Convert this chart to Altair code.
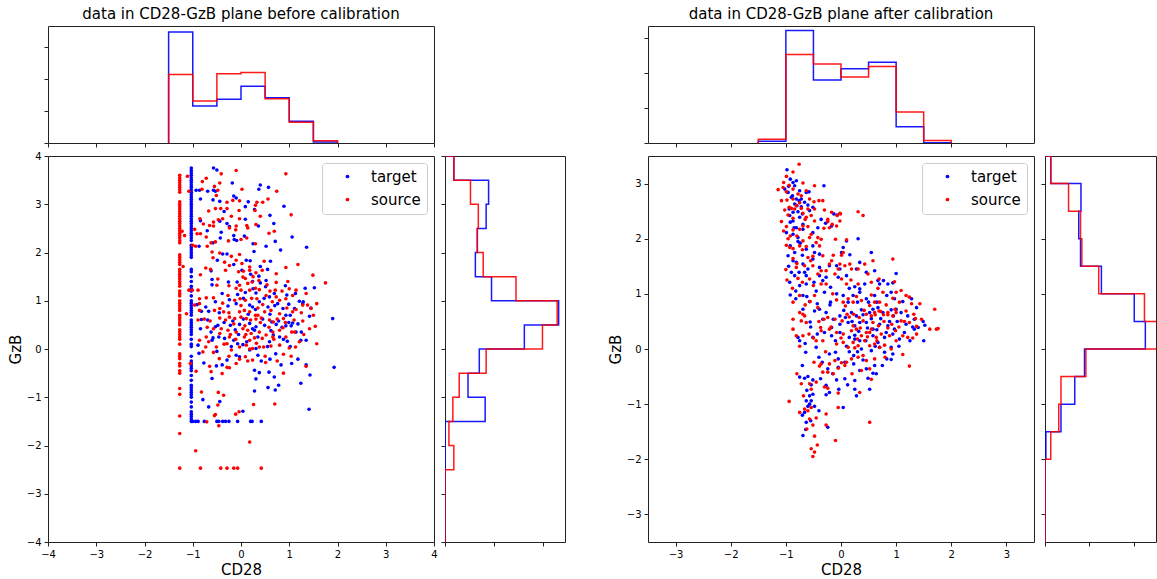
import altair as alt
import pandas as pd

FONT = "DejaVu Sans"
BLUE = "#0000ff"
RED = "#ff0000"
SERIES = ["target", "source"]
TITLE_BEFORE = "data in CD28-GzB plane before calibration"
TITLE_AFTER = "data in CD28-GzB plane after calibration"

# histogram bin edges (shared by all marginal histograms)
BIN_EDGES = [-4.0, -3.5, -3.0, -2.5, -2.0, -1.5, -1.0, -0.5, 0.0, 0.5, 1.0, 1.5, 2.0, 2.5, 3.0, 3.5, 4.0]

# marginal histogram heights, one per bin
before_cd28_target = [0, 0, 0, 0, 0, 3.48, 1.16, 1.37, 1.78, 1.42, 0.68, 0.03, 0, 0, 0, 0]
before_cd28_source = [0, 0, 0, 0, 0, 2.15, 1.32, 2.17, 2.21, 1.39, 0.65, 0.07, 0, 0, 0, 0]
before_gzb_target = [0, 0, 0, 0, 0, 0.82, 0.47, 0.70, 1.62, 2.32, 0.95, 0.62, 0.66, 0.84, 0.89, 0.18]
before_gzb_source = [0, 0, 0, 0.18, 0.08, 0.16, 0.29, 0.84, 1.99, 2.29, 1.45, 0.78, 0.66, 0.68, 0.52, 0.18]
after_cd28_target = [0, 0, 0, 0, 0, 0.05, 3.20, 1.79, 2.11, 2.30, 0.46, 0.01, 0, 0, 0, 0]
after_cd28_source = [0, 0, 0, 0, 0, 0.11, 2.52, 2.25, 1.88, 2.18, 0.88, 0.07, 0, 0, 0, 0]
after_gzb_target = [0, 0, 0, 0, 0.02, 0.36, 0.67, 0.89, 2.26, 2.01, 1.27, 0.80, 0.76, 0.81, 0.13, 0]
after_gzb_source = [0, 0, 0, 0, 0.13, 0.31, 0.36, 0.92, 2.65, 2.24, 1.21, 0.83, 0.80, 0.53, 0.13, 0]

# ---- scatter points, before calibration ----
before_target_col_x = -1.03
before_target_col_y = [3.75, 3.7, 3.65, 3.6, 3.55, 3.5, 3.45, 3.4, 3.35, 3.3, 3.25, 3.2, 3.15, 3.1, 3.05, 3.0,
                       2.95, 2.9, 2.85, 2.8, 2.75, 2.7, 2.65, 2.6, 2.55, 2.5, 2.45, 2.4, 2.35, 2.3, 2.25, 2.15,
                       2.1, 2.05, 2.0, 1.95, 1.9, 1.65, 1.6, 1.5, 1.4, 1.3, 1.25, 1.2, 1.1, 1.0, 0.95, 0.9, 0.85,
                       0.8, 0.75, 0.7, 0.6, 0.55, 0.5, 0.45, 0.4, 0.35, 0.3, 0.2, 0.1, 0.05, -0.15, -0.25, -0.3,
                       -0.35, -0.4, -0.45, -0.55, -0.65, -0.75, -0.8, -0.85, -0.9, -0.95, -1.0, -1.1, -1.2,
                       -1.3, -1.35, -1.4, -1.45]
before_target_row_y = -1.5
before_target_row_x = [-1.03, -1.0, -0.94, -0.89, -0.76, -0.5, -0.46, -0.38, -0.32, -0.25, -0.07, 0.2, 0.23, 0.42]
before_target_cloud = [
    (-0.57, 3.75), (-0.50, 3.71), (-0.93, 3.29), (-0.86, 3.29), (-0.69, 3.27), (-0.57, 3.29), (-0.53, 3.27),
    (-0.18, 3.44), (0.40, 3.40), (0.37, 3.31), (0.57, 3.35), (-0.84, 3.11), (-0.58, 3.09), (-0.44, 3.06),
    (-0.15, 3.17), (-0.10, 3.13), (0.09, 2.95), (0.28, 2.89), (0.89, 2.96), (0.60, 2.77), (-0.84, 2.66),
    (-0.44, 2.65), (-0.29, 2.60), (-0.24, 2.54), (0.09, 2.69), (0.36, 2.55), (-0.41, 2.42), (-0.15, 2.35),
    (0.07, 2.34), (-0.14, 2.27), (-0.43, 2.30), (1.06, 2.32), (-0.09, 2.25), (0.71, 2.23), (0.25, 2.18),
    (0.52, 2.13), (1.36, 2.11), (-0.87, 2.13), (-0.58, 2.20), (-0.38, 1.97), (-0.29, 1.97), (0.27, 2.02),
    (-0.49, 1.84), (0.11, 1.84), (0.19, 1.83), (0.61, 1.82), (0.40, 1.71), (0.02, 1.63), (0.37, 1.51),
    (-0.26, 1.39), (-0.60, 1.44), (-0.08, 1.39), (0.24, 1.40), (0.40, 1.37), (0.52, 1.42), (0.92, 1.31),
    (1.33, 1.26), (1.52, 1.27), (-0.60, 1.33), (-0.39, 1.15), (-0.24, 1.02), (-0.07, 1.13), (0.09, 1.17),
    (0.31, 1.16), (0.51, 1.29), (0.59, 1.08), (0.69, 1.15), (1.13, 1.15), (1.21, 0.99), (1.29, 0.98),
    (-0.91, 0.92), (-0.82, 0.78), (-0.73, 0.87), (-0.67, 0.78), (-0.53, 0.98), (-0.27, 0.89), (-0.10, 0.94),
    (0.18, 0.91), (0.24, 0.87), (0.38, 0.98), (0.56, 0.87), (0.76, 0.94), (0.87, 0.84), (0.99, 0.93),
    (1.11, 0.84), (1.28, 0.94), (1.42, 0.68), (0.93, 0.70), (1.90, 0.63), (-0.82, 0.61), (-0.69, 0.60),
    (-0.53, 0.46), (-0.48, 0.49), (-0.22, 0.49), (-0.17, 0.58), (-0.03, 0.51), (0.18, 0.53), (0.24, 0.42),
    (0.28, 0.39), (0.31, 0.46), (0.49, 0.49), (0.64, 0.56), (0.73, 0.51), (0.93, 0.48), (0.99, 0.55),
    (1.04, 0.48), (1.07, 0.54), (1.14, 0.35), (-0.84, 0.42), (-0.58, 0.23), (-0.46, 0.25), (-0.34, 0.22),
    (-0.15, 0.18), (-0.07, 0.11), (0.04, 0.09), (0.31, 0.01), (0.59, 0.15), (0.67, 0.29), (0.80, 0.25),
    (0.96, 0.16), (1.24, 0.18), (1.35, 0.18), (-0.89, 0.08), (-0.60, 0.18), (-0.87, -0.09), (-0.77, -0.29),
    (-0.51, -0.35), (-0.39, -0.33), (-0.29, -0.23), (-0.10, -0.13), (-0.03, -0.16), (0.18, -0.02),
    (0.35, -0.13), (0.60, -0.21), (0.83, -0.33), (1.05, -0.30), (1.18, -0.21), (1.35, -0.33), (1.93, -0.38),
    (0.28, -0.44), (0.38, -0.49), (0.58, -0.48), (0.69, -0.58), (0.78, -0.75), (0.56, -0.80), (0.71, -0.85),
    (-0.60, -0.61), (0.31, -0.62), (1.43, -0.54), (1.24, -0.71), (0.28, -0.87), (-0.79, -1.05),
    (-0.67, -1.20), (-0.44, -1.09), (0.04, -1.29), (1.41, -1.25),
    (0.45, 0.62), (0.62, 0.38), (0.78, 0.58), (0.15, 0.72), (-0.05, 0.30), (0.35, 0.25), (0.55, 0.05),
    (0.85, 0.45), (1.02, 0.70), (1.18, 0.52), (0.05, 1.05), (0.25, 1.25), (-0.35, 0.55), (-0.45, 0.75),
    (-0.62, 0.35), (0.70, 0.90), (0.48, 1.05), (0.95, 1.12), (1.25, 0.35), (1.45, 0.85), (0.12, 0.15),
    (-0.20, 0.05), (0.42, -0.25), (0.72, -0.10), (-0.50, -0.05), (0.20, 1.55), (-0.15, 1.75), (0.55, 1.65),
    (0.82, 2.05), (-0.35, 2.85), (-0.70, 2.45), (0.15, 3.05), (0.68, 2.60), (-0.62, 1.62), (1.02, 0.05),
    (0.30, 0.82), (0.60, 0.72), (0.88, 0.20), (-0.12, 0.40), (0.05, 0.62),
]
before_source_col_x = -1.27
before_source_col_y = [3.6, 3.55, 3.5, 3.45, 3.4, 3.35, 3.3, 3.25, 3.05, 3.0, 2.95, 2.9, 2.85, 2.8, 2.75, 2.7,
                       2.65, 2.6, 2.55, 2.5, 2.45, 2.4, 2.35, 2.3, 2.25, 2.2, 1.95, 1.9, 1.85, 1.8, 1.75, 1.65,
                       1.6, 1.55, 1.5, 1.45, 1.4, 1.35, 1.3, 1.2, 1.15, 1.1, 1.0, 0.95, 0.9, 0.85, 0.8, 0.7,
                       0.65, 0.6, 0.55, 0.5, 0.4, 0.35, 0.3, 0.25, 0.2, 0.1, -0.1, -0.15, -0.2, -0.3, -0.35,
                       -0.45, -0.5, -0.82, -0.94, -1.39, -1.75, -2.47]
before_source_row_y = -2.47
before_source_row_x = [-0.84, -0.42, -0.29, -0.15, -0.07, 0.42]
before_source_cloud = [
    (-1.11, 3.58), (-0.10, 3.70), (-0.41, 3.63), (0.93, 3.63), (-0.72, 3.54), (-0.80, 3.47), (-0.44, 3.44),
    (-0.55, 3.37), (-0.48, 3.29), (-0.81, 3.31), (-1.08, 3.27), (0.02, 3.31), (0.74, 3.27), (-0.51, 3.18),
    (-0.29, 3.04), (-0.17, 3.08), (-0.03, 3.07), (0.45, 3.04), (0.56, 3.11), (0.33, 3.04), (-0.42, 2.91),
    (-0.29, 2.91), (-0.04, 2.87), (0.30, 2.98), (-0.67, 2.86), (-0.53, 2.91), (1.04, 2.78), (0.29, 2.87),
    (-0.03, 2.70), (-0.47, 2.68), (-0.38, 2.70), (-0.57, 2.63), (-0.65, 2.56), (-0.78, 2.59), (-0.57, 2.55),
    (-0.24, 2.51), (-0.10, 2.55), (0.12, 2.56), (0.31, 2.58), (-0.11, 2.47), (0.14, 2.51), (0.69, 2.44),
    (-0.96, 2.48), (-0.91, 2.39), (-0.84, 2.39), (-1.17, 2.35), (-1.22, 2.44), (-0.72, 2.32), (-0.26, 2.24),
    (0.00, 2.27), (-0.53, 2.22), (0.30, 2.18), (-0.62, 2.20), (-1.00, 2.15), (-0.94, 2.13), (-0.70, 2.13),
    (-0.60, 2.01), (-0.44, 1.99), (-0.03, 1.96), (-0.20, 1.92), (-0.58, 1.89), (-0.34, 1.80), (-0.10, 1.84),
    (0.02, 1.77), (0.18, 1.70), (-0.24, 1.73), (-0.73, 1.68), (-0.63, 1.65), (-1.20, 1.71), (-0.32, 1.63),
    (0.05, 1.61), (0.18, 1.63), (0.31, 1.58), (0.44, 1.63), (-0.84, 1.54), (0.73, 1.56), (0.93, 1.69),
    (1.18, 1.75), (0.04, 1.49), (0.09, 1.46), (-0.03, 1.32), (0.14, 1.36), (0.23, 1.39), (0.37, 1.42),
    (0.54, 1.33), (0.73, 1.38), (0.97, 1.40), (1.49, 1.53), (1.75, 1.37), (-0.50, 1.32), (-0.25, 1.31),
    (-0.10, 1.26), (0.00, 1.22), (0.18, 1.22), (0.30, 1.26), (0.38, 1.23), (0.60, 1.20), (0.71, 1.22),
    (1.00, 1.25), (1.14, 1.22), (1.35, 1.15), (-1.08, 1.22), (-1.01, 1.22), (-0.89, 1.22), (-0.27, 1.11),
    (-0.13, 1.01), (-0.02, 1.04), (0.09, 1.01), (0.33, 1.04), (0.52, 1.11), (0.73, 1.08), (0.80, 1.01),
    (0.93, 1.04), (1.07, 1.11), (-0.86, 1.04), (-0.72, 1.06), (-0.57, 1.06), (-0.86, 0.94), (1.28, 0.91),
    (1.38, 0.91), (1.57, 0.94), (-0.96, 0.91), (-0.86, 0.80), (-0.44, 0.84), (-0.36, 0.77), (-0.25, 0.75),
    (-0.03, 0.77), (0.07, 0.80), (0.18, 0.77), (0.30, 0.70), (0.35, 0.85), (0.49, 0.77), (0.62, 0.80),
    (0.80, 0.73), (1.07, 0.77), (1.14, 0.82), (1.45, 0.84), (-1.13, 0.73), (-0.89, 0.60), (-0.76, 0.62),
    (-0.64, 0.58), (-0.44, 0.64), (-0.32, 0.60), (-0.24, 0.66), (-0.13, 0.63), (0.00, 0.66), (0.11, 0.63),
    (0.31, 0.62), (0.42, 0.64), (0.59, 0.60), (0.67, 0.56), (0.88, 0.63), (1.28, 0.58), (-0.57, 0.42),
    (-0.41, 0.42), (-0.27, 0.39), (-0.10, 0.35), (0.04, 0.42), (0.14, 0.39), (0.21, 0.32), (0.38, 0.35),
    (0.52, 0.29), (0.66, 0.35), (0.80, 0.39), (0.87, 0.44), (1.11, 0.35), (1.42, 0.42), (1.54, 0.47),
    (-0.44, 0.32), (-0.24, 0.25), (-0.11, 0.20), (0.07, 0.25), (0.18, 0.18), (0.28, 0.23), (0.44, 0.22),
    (0.66, 0.25), (0.93, 0.25), (1.21, 0.15), (-0.72, 0.25), (-0.86, 0.18), (-0.67, 0.15), (-0.51, 0.04),
    (-0.29, 0.11), (-0.20, -0.02), (-0.03, 0.04), (0.11, 0.08), (0.24, 0.01), (0.38, 0.04), (0.47, 0.04),
    (0.62, 0.06), (0.80, 0.08), (1.00, 0.02), (1.13, 0.04), (1.57, 0.11), (-0.73, 0.04), (-0.79, -0.06),
    (-0.57, -0.07), (-0.25, -0.15), (-0.03, -0.21), (0.09, -0.16), (0.24, -0.23), (0.51, -0.28),
    (0.88, -0.11), (1.04, -0.15), (1.35, -0.36), (-0.65, -0.36), (-0.62, -0.47), (-0.29, -0.38),
    (-0.24, -0.39), (-0.10, -0.30), (0.14, -0.25), (0.88, -0.50), (-0.39, -0.51), (-0.82, -0.89),
    (-0.93, -0.46), (-0.47, -0.90), (-0.36, -0.96), (-0.48, -1.16), (-0.53, -1.36), (-0.55, -1.38),
    (-0.11, -1.35), (-0.04, -1.30), (0.26, -1.15), (0.70, -1.14), (-0.71, -1.51), (-0.46, -1.59),
    (0.18, -1.93), (-0.94, -2.11), (-1.05, -0.30),
    (0.40, 0.55), (0.58, 0.45), (0.75, 0.62), (0.20, 0.60), (-0.15, 0.52), (0.10, 0.30), (0.32, 0.12),
    (0.92, 0.55), (1.10, 0.60), (1.25, 0.75), (0.00, 0.90), (0.22, 1.05), (-0.38, 0.95), (-0.55, 0.80),
    (-0.70, 0.45), (0.65, 0.98), (0.45, 0.92), (0.85, 1.20), (1.30, 0.30), (1.50, 0.70), (0.18, 0.00),
    (-0.35, 0.10), (0.50, -0.15), (0.75, -0.25), (-0.45, -0.20), (0.25, 1.50), (-0.05, 1.60), (0.48, 1.82),
    (0.12, 2.30), (-0.20, 2.75), (-0.85, 2.70), (0.40, 2.75), (0.58, 2.40), (-0.48, 1.45), (1.05, 0.35),
    (0.35, 0.70), (0.68, 0.20), (0.95, 0.85), (-0.22, 0.30), (0.08, 0.48),
]

# ---- scatter points, after calibration ----
after_target_pts = [
    (-0.98, 3.25), (-0.92, 3.08), (-0.81, 3.05), (-0.87, 3.02), (-0.84, 2.96), (-1.02, 2.90), (-0.96, 2.84),
    (-0.75, 2.87), (-0.63, 2.84), (-0.58, 2.85), (-0.31, 2.96), (-0.90, 2.75), (-0.81, 2.72), (-0.76, 2.69),
    (-0.72, 2.72), (-0.66, 2.66), (-0.60, 2.61), (-0.84, 2.63), (-0.94, 2.54), (-0.87, 2.48), (-0.78, 2.49),
    (-0.72, 2.58), (-0.57, 2.51), (-0.51, 2.57), (-0.93, 2.42), (-0.87, 2.32), (-0.92, 2.30), (-0.75, 2.39),
    (-0.69, 2.26), (-0.36, 2.35), (-0.13, 2.45), (-0.07, 2.43), (-0.81, 2.20), (-0.69, 2.17), (-0.51, 2.11),
    (-0.42, 2.20), (-0.28, 2.28), (-0.17, 2.23), (-0.99, 2.11), (-0.87, 2.08), (-0.78, 2.02), (0.31, 2.00),
    (0.10, 1.96), (0.04, 1.84), (-0.74, 1.92), (-0.51, 1.87), (-0.48, 1.75), (-0.39, 1.72), (-0.63, 1.81),
    (-0.92, 1.87), (-0.84, 1.75), (0.16, 1.71), (0.01, 1.75), (-0.96, 1.69), (-0.87, 1.60), (-0.81, 1.57),
    (-0.69, 1.54), (-0.51, 1.63), (-0.39, 1.48), (-0.21, 1.51), (-0.08, 1.51), (0.34, 1.57), (0.55, 1.75),
    (0.61, 1.42), (0.46, 1.39), (0.28, 1.45), (0.10, 1.33), (-0.02, 1.45), (-0.90, 1.39), (-0.84, 1.33),
    (-0.76, 1.39), (-0.66, 1.39), (-0.63, 1.33), (-0.39, 1.33), (-0.27, 1.30), (-0.93, 1.21), (-0.75, 1.15),
    (-0.63, 1.18), (-0.49, 1.21), (-0.33, 1.24), (-0.19, 1.12), (-0.05, 1.30), (0.25, 1.13), (0.34, 1.09),
    (0.43, 1.18), (0.67, 1.24), (0.70, 1.18), (0.85, 1.18), (1.00, 1.37), (0.94, 1.20), (0.77, 1.24),
    (-0.92, 0.98), (-0.82, 0.91), (-0.69, 0.97), (-0.57, 0.86), (-0.43, 0.82), (-0.30, 1.03), (-0.19, 0.85),
    (-0.08, 1.00), (0.04, 0.97), (0.13, 0.85), (0.22, 0.97), (0.34, 1.03), (0.46, 0.91), (0.61, 0.97),
    (0.65, 0.85), (0.83, 0.97), (0.91, 1.03), (0.97, 0.91), (1.12, 0.86), (1.28, 0.91), (1.37, 0.75),
    (-0.69, 0.72), (-0.48, 0.69), (-0.39, 0.72), (-0.27, 0.66), (-0.14, 0.54), (-0.02, 0.60), (0.08, 0.57),
    (0.19, 0.66), (0.28, 0.60), (0.37, 0.71), (0.52, 0.66), (0.58, 0.72), (0.67, 0.75), (0.76, 0.66),
    (0.91, 0.71), (1.00, 0.72), (1.09, 0.66), (1.21, 0.60), (1.33, 0.54), (1.49, 0.50), (1.52, 0.43),
    (-0.56, 0.49), (-0.33, 0.54), (-0.17, 0.39), (-0.02, 0.45), (0.13, 0.48), (0.25, 0.42), (0.34, 0.48),
    (0.46, 0.48), (0.58, 0.36), (0.70, 0.45), (0.85, 0.42), (0.97, 0.36), (1.18, 0.45), (1.33, 0.36),
    (1.40, 0.39), (-0.78, 0.21), (-0.75, 0.15), (-0.51, 0.21), (-0.43, 0.27), (-0.17, 0.24), (-0.02, 0.30),
    (0.15, 0.21), (0.25, 0.18), (0.34, 0.15), (0.58, 0.24), (0.67, 0.12), (0.79, 0.21), (0.94, 0.27),
    (1.06, 0.18), (1.50, 0.15), (-0.64, -0.06), (-0.45, 0.03), (-0.21, -0.09), (-0.10, -0.06), (-0.05, -0.18),
    (0.15, -0.05), (0.23, -0.12), (0.37, 0.00), (0.55, -0.03), (0.70, 0.03), (0.79, -0.06), (0.83, -0.18),
    (0.91, -0.19), (0.94, -0.09), (0.91, 0.03), (-0.34, -0.24), (-0.24, -0.36), (-0.05, -0.33), (0.07, -0.24),
    (0.23, -0.27), (0.34, -0.39), (0.46, -0.36), (0.61, -0.30), (0.58, -0.44), (-0.75, -0.51), (-0.66, -0.53),
    (-0.60, -0.50), (-0.51, -0.56), (-0.37, -0.54), (-0.27, -0.66), (-0.08, -0.56), (0.07, -0.54),
    (0.25, -0.57), (0.49, -0.53), (0.64, -0.45), (-0.54, -0.65), (-0.51, -0.82), (-0.57, -0.85),
    (-0.27, -0.83), (-0.21, -0.79), (-0.04, -0.73), (0.25, -0.73), (0.28, -0.85), (0.52, -0.73),
    (-0.63, -0.94), (-0.54, -0.94), (-0.57, -1.00), (-0.60, -1.04), (-0.48, -1.04), (-0.66, -1.15),
    (-0.40, -1.12), (0.04, -1.06), (-0.63, -1.33), (-0.64, -1.46), (-0.24, -1.42), (-0.69, -1.57),
    (-0.95, 2.95), (-0.88, 2.78), (-0.80, 2.60), (-0.70, 2.45), (-0.85, 2.20), (-0.78, 1.95), (-0.70, 1.70),
    (-0.60, 1.45), (-0.95, 1.50), (-0.82, 1.05), (-0.62, 0.95), (-0.45, 1.05), (-0.20, 0.80), (0.05, 0.70),
    (0.20, 0.50), (0.32, 0.32), (0.45, 0.15), (0.55, 0.55), (0.65, 0.35), (0.72, 0.55), (0.82, 0.30),
    (0.88, 0.50), (1.02, 0.50), (1.15, 0.30), (1.25, 0.15), (0.40, 0.62), (0.30, 0.85), (0.15, 1.10),
    (0.50, 0.85), (0.62, 0.05), (0.30, -0.05), (0.10, 0.05), (-0.10, 0.15), (-0.30, 0.30), (-0.55, 0.40),
    (-0.65, 0.10), (-0.40, -0.15), (-0.15, -0.45), (0.12, -0.65), (0.40, -0.20), (-0.70, -0.30),
    (-0.62, -0.75), (-0.70, -1.20), (-0.55, -1.30), (0.75, -0.30), (1.05, 0.05), (1.30, 0.40), (0.95, 0.60),
    (0.25, 0.25), (0.48, 0.38),
]
after_source_pts = [
    (-0.76, 3.35), (-0.87, 3.21), (-0.99, 3.13), (-1.04, 3.02), (-0.94, 2.97), (-0.87, 2.90), (-1.14, 2.89),
    (-1.05, 2.93), (-0.99, 2.85), (-0.69, 3.01), (-0.48, 2.96), (-0.63, 2.87), (-0.78, 2.81), (-0.72, 2.78),
    (-1.08, 2.69), (-0.87, 2.72), (-0.81, 2.60), (-0.57, 2.72), (-0.49, 2.67), (-0.40, 2.69), (-0.33, 2.69),
    (-1.02, 2.52), (-0.94, 2.57), (-0.84, 2.54), (-0.72, 2.55), (-0.60, 2.54), (-0.69, 2.46), (-0.48, 2.54),
    (-0.30, 2.52), (-0.17, 2.48), (-0.02, 2.46), (-0.07, 2.42), (-0.01, 2.45), (0.31, 2.49), (0.40, 2.42),
    (-0.96, 2.43), (-0.87, 2.37), (-0.63, 2.39), (-0.54, 2.42), (-0.48, 2.32), (-0.24, 2.35), (-0.24, 2.31),
    (-0.16, 2.26), (-0.02, 2.32), (-1.08, 2.31), (-0.99, 2.22), (-0.69, 2.23), (-0.75, 2.17), (-0.60, 2.22),
    (-0.31, 2.19), (-0.21, 2.20), (-0.08, 2.23), (-1.04, 2.14), (-0.87, 2.16), (-0.54, 2.08), (-0.42, 2.02),
    (-0.80, 2.05), (-0.96, 2.00), (-0.69, 1.96), (-0.57, 2.02), (-0.36, 1.99), (0.10, 1.98), (-0.10, 1.99),
    (-0.99, 1.88), (-0.93, 1.84), (-0.87, 1.82), (-0.75, 1.87), (-0.63, 1.86), (-0.45, 1.93), (-0.39, 1.87),
    (0.04, 1.75), (0.01, 1.70), (-0.33, 1.69), (-0.14, 1.70), (-0.87, 1.64), (-0.60, 1.66), (-0.51, 1.68),
    (-0.17, 1.60), (-0.02, 1.54), (0.07, 1.51), (0.16, 1.54), (0.43, 1.54), (0.58, 1.60), (0.94, 1.63),
    (-1.00, 1.44), (-0.81, 1.48), (-0.66, 1.51), (-0.51, 1.51), (-0.21, 1.54), (-0.05, 1.45), (0.19, 1.45),
    (0.31, 1.45), (0.49, 1.36), (0.69, 1.27), (0.97, 1.22), (-0.78, 1.28), (-0.70, 1.21), (-0.57, 1.27),
    (-0.42, 1.36), (-0.36, 1.42), (-0.27, 1.42), (-0.11, 1.36), (0.01, 1.27), (0.10, 1.18), (0.31, 1.18),
    (0.55, 1.21), (0.67, 1.10), (0.76, 1.03), (1.00, 1.03), (1.09, 1.06), (1.18, 0.97), (-0.87, 0.85),
    (-0.75, 0.97), (-0.56, 0.86), (-0.42, 0.75), (-0.48, 0.97), (-0.36, 1.18), (-0.27, 1.18), (-0.08, 0.89),
    (0.04, 0.85), (0.13, 0.91), (0.22, 0.85), (0.37, 0.88), (0.52, 0.79), (0.61, 0.85), (0.70, 0.85),
    (0.82, 0.80), (0.94, 0.92), (1.06, 0.85), (1.24, 0.94), (1.28, 0.82), (1.43, 0.82), (1.70, 0.72),
    (-0.75, 0.66), (-0.69, 0.63), (-0.66, 0.60), (-0.87, 0.54), (-0.72, 0.51), (-0.63, 0.48), (-0.37, 0.39),
    (-0.31, 0.54), (-0.24, 0.57), (-0.11, 0.54), (0.02, 0.51), (0.11, 0.63), (0.23, 0.63), (0.33, 0.57),
    (0.40, 0.51), (0.46, 0.63), (0.55, 0.60), (0.61, 0.66), (0.69, 0.69), (0.77, 0.62), (0.85, 0.66),
    (0.94, 0.60), (1.00, 0.66), (1.09, 0.51), (1.18, 0.69), (1.24, 0.48), (1.32, 0.63), (1.37, 0.41),
    (1.46, 0.54), (1.73, 0.36), (1.76, 0.37), (-0.87, 0.36), (-0.81, 0.24), (-0.69, 0.24), (-0.58, 0.27),
    (-0.36, 0.33), (-0.21, 0.36), (-0.08, 0.30), (0.04, 0.27), (0.19, 0.33), (0.28, 0.36), (0.37, 0.24),
    (0.46, 0.30), (0.55, 0.36), (0.64, 0.21), (0.73, 0.27), (0.88, 0.24), (0.99, 0.33), (1.12, 0.24),
    (1.21, 0.21), (1.37, 0.27), (1.61, 0.36), (-0.45, 0.15), (-0.33, 0.15), (-0.08, 0.09), (0.04, 0.12),
    (0.13, 0.03), (0.22, 0.12), (0.31, 0.06), (0.43, 0.15), (0.52, 0.06), (0.61, 0.09), (0.70, 0.03),
    (0.79, 0.07), (0.91, 0.00), (1.12, -0.10), (-0.49, -0.24), (-0.36, -0.27), (-0.39, -0.31),
    (-0.21, -0.27), (-0.11, -0.21), (0.01, -0.25), (0.10, -0.24), (0.19, -0.18), (0.31, -0.15),
    (0.40, -0.12), (0.46, -0.21), (0.61, -0.18), (-0.33, -0.42), (-0.24, -0.42), (-0.14, -0.45),
    (0.07, -0.30), (0.37, -0.39), (0.52, -0.36), (1.24, -0.31), (-0.72, -0.63), (-0.57, -0.63),
    (-0.45, -0.60), (-0.30, -0.69), (-0.24, -0.71), (-0.05, -0.80), (0.34, -0.79), (-0.54, -0.73),
    (-0.94, -0.95), (-0.75, -1.15), (-0.66, -1.09), (-0.60, -1.12), (-0.54, -1.06), (-0.57, -1.27),
    (-0.51, -1.38), (-0.27, -1.18), (-0.05, -1.06), (0.52, -1.33), (-0.27, -1.38), (-0.48, -1.58),
    (-0.10, -1.66), (-0.43, -1.74), (-0.54, -1.81), (-0.48, -1.87), (-0.51, -1.95),
    (-0.98, 2.70), (-0.90, 2.55), (-0.75, 2.65), (-0.65, 2.35), (-0.92, 2.05), (-0.70, 1.80), (-0.80, 1.55),
    (-0.55, 1.60), (-0.98, 1.25), (-0.88, 1.10), (-0.65, 0.80), (-0.50, 1.15), (-0.15, 1.00), (0.08, 0.78),
    (0.22, 0.42), (0.35, 0.38), (0.48, 0.22), (0.58, 0.48), (0.68, 0.42), (0.78, 0.50), (0.85, 0.38),
    (0.92, 0.45), (1.05, 0.40), (1.15, 0.50), (1.30, 0.20), (0.42, 0.70), (0.28, 0.95), (0.18, 1.25),
    (0.55, 0.98), (0.65, 0.15), (0.25, 0.02), (0.00, 0.20), (-0.18, 0.40), (-0.40, 0.50), (-0.50, 0.20),
    (-0.75, 0.05), (-0.28, -0.05), (-0.05, -0.35), (0.20, -0.45), (0.55, -0.55), (-0.80, -0.45),
    (-0.68, -0.85), (-0.62, -1.45), (-0.45, -1.25), (0.80, -0.15), (1.00, 0.15), (1.35, 0.55), (0.98, 0.72),
    (0.30, 0.18), (0.52, 0.30), (0.72, 0.68), (0.85, 0.62), (0.62, 0.62), (0.15, 0.58),
]


def scatter_frame(target_pts, source_pts):
    rows = []
    for name, pts in (("target", target_pts), ("source", source_pts)):
        for x, y in pts:
            rows.append({"CD28": x, "GzB": y, "series": name, "idx": len(rows)})
    return pd.DataFrame(rows)


def step_frame(heights, trim=False):
    first, last = 0, len(heights) - 1
    if trim:
        while first < last and heights[first] == 0:
            first += 1
        while last > first and heights[last] == 0:
            last -= 1
    rows = [{"edge": BIN_EDGES[first], "h": 0.0, "k": 0}]
    for i in range(first, last + 1):
        rows.append({"edge": BIN_EDGES[i], "h": heights[i], "k": len(rows)})
        rows.append({"edge": BIN_EDGES[i + 1], "h": heights[i], "k": len(rows)})
    rows.append({"edge": BIN_EDGES[last + 1], "h": 0.0, "k": len(rows)})
    return pd.DataFrame(rows)


before_target_all = (before_target_cloud
                     + [(before_target_col_x, y) for y in before_target_col_y]
                     + [(x, before_target_row_y) for x in before_target_row_x])
before_source_all = (before_source_cloud
                     + [(before_source_col_x, y) for y in before_source_col_y]
                     + [(x, before_source_row_y) for x in before_source_row_x])

W = 386
H = 386
TOP_H = 117


def tick_axis(values, labels=False, title=None, **kw):
    return alt.Axis(values=values, labels=labels, title=title, labelFlush=False, labelOverlap=False, **kw)


def scatter(df, dom, ticks):
    legend = alt.Legend(
        title=None, orient="top-right", offset=7, padding=6, symbolType="circle", symbolSize=14,
        labelFontSize=15, labelFont=FONT, labelColor="black", symbolOffset=12, labelOffset=16,
        rowPadding=7, strokeColor="#cccccc", fillColor="rgba(255,255,255,0.8)", cornerRadius=3,
        symbolStrokeWidth=0,
    )
    return alt.Chart(df).mark_circle(size=13, opacity=1).encode(
        x=alt.X("CD28:Q", scale=alt.Scale(domain=dom, nice=False, zero=False),
                axis=tick_axis(ticks, labels=True, title="CD28")),
        y=alt.Y("GzB:Q", scale=alt.Scale(domain=dom, nice=False, zero=False),
                axis=tick_axis(ticks, labels=True, title="GzB")),
        color=alt.Color("series:N", scale=alt.Scale(domain=SERIES, range=[BLUE, RED]), legend=legend),
        order=alt.Order("idx:Q"),
    ).properties(width=W, height=H)


def top_hist(target_h, source_h, dom, ticks, ymax, title):
    layers = []
    for heights, col in ((target_h, BLUE), (source_h, RED)):
        layers.append(alt.Chart(step_frame(heights, trim=True)).mark_line(
            color=col, strokeWidth=1.5, opacity=0.9, clip=True).encode(
            x=alt.X("edge:Q", scale=alt.Scale(domain=dom, nice=False, zero=False), axis=tick_axis(ticks)),
            y=alt.Y("h:Q", scale=alt.Scale(domain=[0, ymax], nice=False), axis=tick_axis([0, 1, 2, 3])),
            order=alt.Order("k:Q"),
        ))
    return alt.layer(*layers).properties(
        width=W, height=TOP_H,
        title=alt.TitleParams(title, fontSize=15, font=FONT, fontWeight="normal", color="black",
                              anchor="middle", offset=4),
    )


def right_hist(target_h, source_h, dom, ticks, xmax, width):
    layers = []
    for heights, col in ((target_h, BLUE), (source_h, RED)):
        layers.append(alt.Chart(step_frame(heights)).mark_line(
            color=col, strokeWidth=1.5, opacity=0.9, clip=True).encode(
            x=alt.X("h:Q", scale=alt.Scale(domain=[0, xmax], nice=False), axis=tick_axis([0, 1, 2])),
            y=alt.Y("edge:Q", scale=alt.Scale(domain=dom, nice=False, zero=False), axis=tick_axis(ticks)),
            order=alt.Order("k:Q"),
        ))
    return alt.layer(*layers).properties(width=width, height=H)


def blank(width, height):
    return alt.Chart(pd.DataFrame({"v": [0]})).mark_point(opacity=0).encode(
        x=alt.value(0), y=alt.value(0)
    ).properties(width=width, height=height, view=alt.ViewConfig(stroke="transparent"))


ticks_b = [-4, -3, -2, -1, 0, 1, 2, 3, 4]
ticks_a = [-3, -2, -1, 0, 1, 2, 3]

cells = [
    top_hist(before_cd28_target, before_cd28_source, [-4, 4], ticks_b, 3.67, TITLE_BEFORE),
    blank(120, TOP_H),
    blank(61, TOP_H),
    top_hist(after_cd28_target, after_cd28_source, [-3.5, 3.5], ticks_a, 3.33, TITLE_AFTER),
    blank(111, TOP_H),
    scatter(scatter_frame(before_target_all, before_source_all), [-4, 4], ticks_b),
    right_hist(before_gzb_target, before_gzb_source, [-4, 4], ticks_b, 2.45, 120),
    blank(61, H),
    scatter(scatter_frame(after_target_pts, after_source_pts), [-3.5, 3.5], ticks_a),
    right_hist(after_gzb_target, after_gzb_source, [-3.5, 3.5], ticks_a, 2.5, 111),
]

chart = alt.concat(
    *cells, columns=5, spacing={"row": 13, "column": 11}, bounds="flush"
).resolve_scale(
    x="independent", y="independent", color="independent"
).resolve_legend(color="independent").properties(
    padding={"left": 7, "top": 6, "right": 0, "bottom": 0}
).configure(font=FONT).configure_view(
    stroke="#222222", strokeWidth=1
).configure_axis(
    domain=False, grid=False, tickColor="#222222", tickSize=4, tickWidth=1,
    labelColor="black", labelFont=FONT, labelFontSize=10, labelPadding=3,
    titleFont=FONT, titleFontSize=15, titleFontWeight="normal", titleColor="black", titlePadding=3,
)

chart.save("out.html", embed_options={"renderer": "svg", "actions": False})
